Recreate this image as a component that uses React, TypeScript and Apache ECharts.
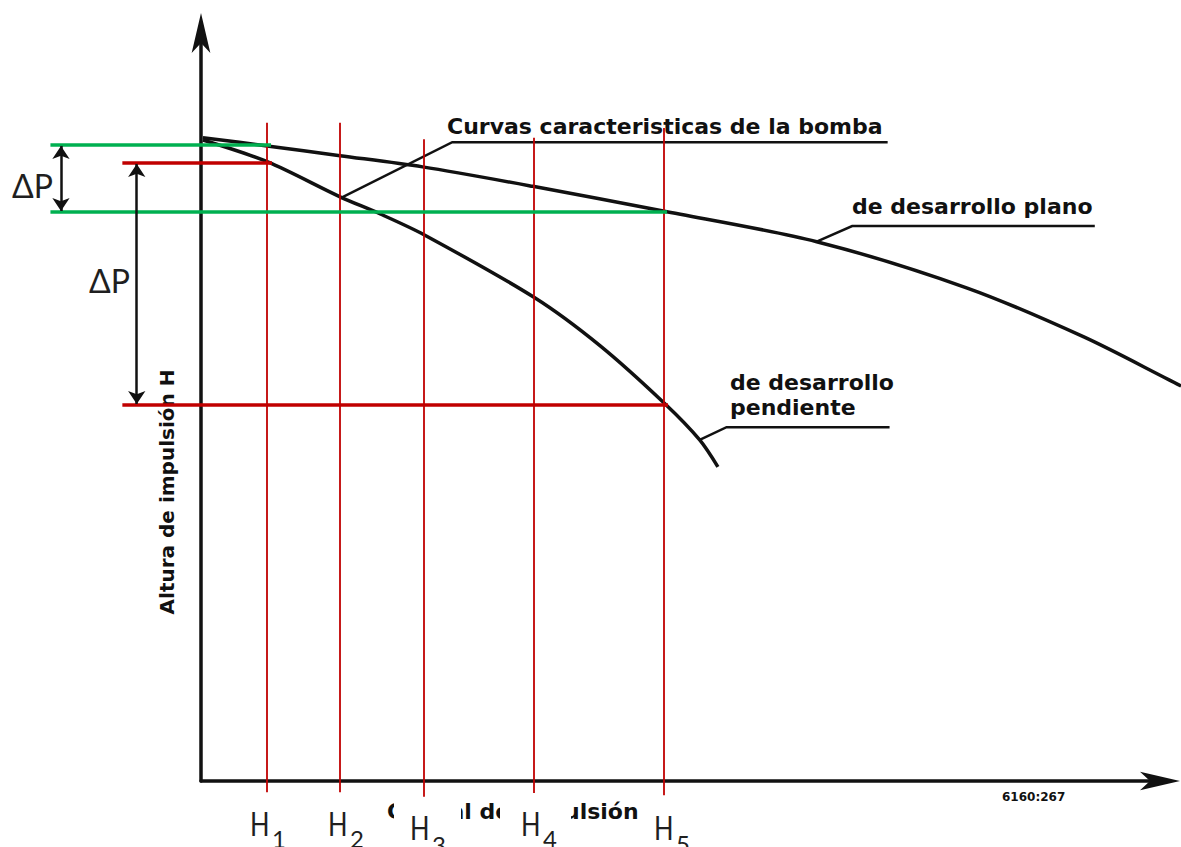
import React, { useEffect, useRef } from 'react';
import * as echarts from 'echarts';

const flatCurve: [number, number][] = [
  [0.2, 86.0], [6.9, 84.9], [14.5, 83.6], [23.1, 82.1], [34.6, 79.5], [48.2, 76.2],
  [64.2, 72.1], [79.9, 65.9], [92.0, 59.4], [101.0, 53.6], [102.2, 52.8],
];
const steepCurve: [number, number][] = [
  [0.2, 85.7], [6.9, 82.8], [14.5, 78.1], [18.7, 75.8], [23.3, 73.0], [34.8, 64.6],
  [41.6, 58.2], [48.4, 50.4], [52.0, 45.6], [53.9, 42.0],
];
const bombaLeader: [number, number][] = [[14.5, 77.9], [26.2, 85.4], [71.6, 85.4]];
const planoLeader: [number, number][] = [[64.2, 72.1], [67.9, 74.2], [93.2, 74.2]];
const pendienteLeader: [number, number][] = [[52.0, 45.6], [54.8, 47.3], [71.8, 47.3]];

const greenLevels = [85.0, 76.1];
const greenStart = -15.7;
const greenEnds = [7.3, 48.6];
const redLevels = [82.6, 50.3];
const redStart = -8.2;
const redEnds = [7.4, 48.7];

const hNames = ['1', '2', '3', '4', '5'];
const hPositions = [6.9, 14.5, 23.2, 34.7, 48.3];
const hTops = [88.0, 88.0, 85.8, 86.0, 87.3];
const hBottoms = [-1.5, -1.5, -2.1, -1.6, -1.9];

const arrowQ = [-14.6, -6.7];
const arrowTop = [84.9, 82.5];
const arrowBottom = [76.2, 50.4];

const BLACK = '#111';
const GREEN = '#00b050';
const RED = '#c00000';
const SCAN_FONT = '"DejaVu Sans"';
const LABEL_FONT = 'Lato';

export default function App() {
  const ref = useRef<HTMLDivElement>(null);

  useEffect(() => {
    const chart = echarts.init(ref.current!, null, { renderer: 'svg' });

    const curve = (name: string, pts: [number, number][]) => ({
      type: 'custom',
      name,
      coordinateSystem: 'cartesian2d',
      clip: false,
      silent: true,
      z: 2,
      data: [[0, 0]],
      renderItem: (_params: any, api: any) => ({
        type: 'polyline',
        shape: { points: pts.map((p) => api.coord(p)), smooth: 0.3 },
        style: { stroke: BLACK, lineWidth: 3.5, fill: 'none', lineJoin: 'round' },
      }),
    });

    const segs = (name: string, data: any[], color: string, width: number, z: number, polyline = false, extra: any = {}) => ({
      type: 'lines',
      name,
      coordinateSystem: 'cartesian2d',
      polyline,
      clip: false,
      silent: true,
      z,
      symbol: 'none',
      lineStyle: { color, width, opacity: 1, curveness: 0 },
      data,
      ...extra,
    });

    const series: any[] = [
      curve('de desarrollo plano', flatCurve),
      curve('de desarrollo pendiente', steepCurve),
      segs('leaders', [{ coords: bombaLeader }, { coords: planoLeader }, { coords: pendienteLeader }], BLACK, 2.5, 2, true),
      segs('green', greenLevels.map((h, i) => ({ coords: [[greenStart, h], [greenEnds[i], h]] })), GREEN, 3.5, 4),
      segs('red', redLevels.map((h, i) => ({ coords: [[redStart, h], [redEnds[i], h]] })), RED, 3.5, 4),
      segs('H', hPositions.map((q, i) => ({ coords: [[q, hTops[i]], [q, hBottoms[i]]] })), RED, 1.8, 3),
      segs('ΔP', arrowQ.map((q, i) => ({ coords: [[q, arrowTop[i]], [q, arrowBottom[i]]] })), BLACK, 2.5, 4, false, {
        symbol: ['arrow', 'arrow'],
        symbolSize: 13,
      }),
    ];

    const graphic: any[] = [
      { type: 'text', x: 447, y: 126, z: 1, style: { text: 'Curvas caracteristicas de la bomba', font: `bold 22px ${SCAN_FONT}`, fill: BLACK, align: 'left', verticalAlign: 'middle' } },
      { type: 'text', x: 852, y: 206, z: 1, style: { text: 'de desarrollo plano', font: `bold 22px ${SCAN_FONT}`, fill: BLACK, align: 'left', verticalAlign: 'middle' } },
      { type: 'text', x: 730, y: 382, z: 1, style: { text: 'de desarrollo', font: `bold 22px ${SCAN_FONT}`, fill: BLACK, align: 'left', verticalAlign: 'middle' } },
      { type: 'text', x: 730, y: 407, z: 1, style: { text: 'pendiente', font: `bold 22px ${SCAN_FONT}`, fill: BLACK, align: 'left', verticalAlign: 'middle' } },
      { type: 'text', x: 167, y: 492, z: 1, rotation: Math.PI / 2, style: { text: 'Altura de impulsión H', font: `bold 20px ${SCAN_FONT}`, fill: BLACK, align: 'center', verticalAlign: 'middle' } },
      { type: 'text', x: 387, y: 811, z: 1, style: { text: 'Caudal de impulsión', font: `bold 22px ${SCAN_FONT}`, fill: BLACK, align: 'left', verticalAlign: 'middle' } },
      { type: 'text', x: 1002, y: 797, z: 1, style: { text: '6160:267', font: `bold 12px ${SCAN_FONT}`, fill: BLACK, align: 'left', verticalAlign: 'middle' } },
      { type: 'rect', z: 5, shape: { x: 394, y: 798, width: 67, height: 49 }, style: { fill: '#fff' } },
      { type: 'rect', z: 5, shape: { x: 500, y: 798, width: 71, height: 49 }, style: { fill: '#fff' } },
      { type: 'text', x: 12, y: 185, z: 6, style: { text: 'ΔP', font: `32px ${LABEL_FONT}`, fill: '#1f1f1f', align: 'left', verticalAlign: 'middle' } },
      { type: 'text', x: 89, y: 280, z: 6, style: { text: 'ΔP', font: `32px ${LABEL_FONT}`, fill: '#1f1f1f', align: 'left', verticalAlign: 'middle' } },
    ];
    const hX = [250, 328, 410, 521, 654];
    const hY = [823, 823, 827, 823, 827];
    const subY = [838, 838, 844, 838, 843];
    hNames.forEach((n, i) => {
      graphic.push({ type: 'text', x: hX[i], y: hY[i], z: 6, scaleX: 0.8, style: { text: 'H', font: `32px ${LABEL_FONT}`, fill: '#1f1f1f', align: 'left', verticalAlign: 'middle' } });
      graphic.push({ type: 'text', x: hX[i] + 22, y: subY[i], z: 6, style: { text: n, font: `24px ${LABEL_FONT}`, fill: '#1f1f1f', align: 'left', verticalAlign: 'middle' } });
    });

    const axisCommon = {
      type: 'value',
      min: 0,
      max: 100,
      axisTick: { show: false },
      axisLabel: { show: false },
      splitLine: { show: false },
    };
    const axisLine = {
      show: true,
      onZero: false,
      symbol: ['none', 'arrow'],
      symbolSize: [14, 40],
      symbolOffset: [0, 20],
      lineStyle: { color: BLACK, width: 3.5 },
    };

    chart.setOption({
      animation: false,
      backgroundColor: '#ffffff',
      grid: { left: 201, right: 21, top: 33, bottom: 66, containLabel: false, outerBoundsMode: 'none' },
      xAxis: { ...axisCommon, axisLine },
      yAxis: { ...axisCommon, axisLine },
      series,
      graphic,
    });

    return () => chart.dispose();
  }, []);

  return <div ref={ref} style={{ position: 'absolute', left: 0, top: 0, width: 1181, height: 847 }} />;
}
